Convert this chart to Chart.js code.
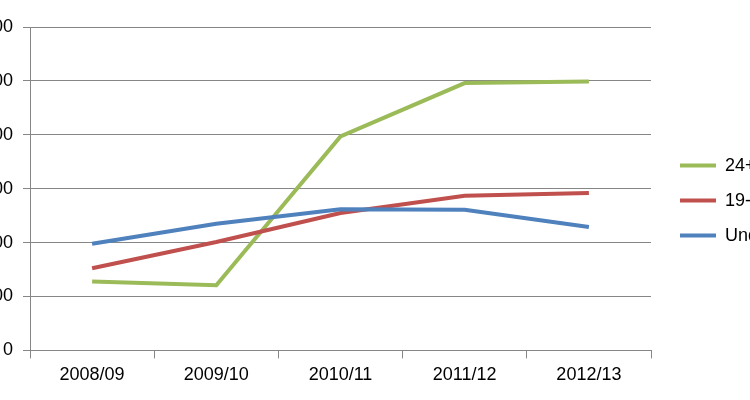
<!DOCTYPE html>
<html>
<head>
<meta charset="utf-8">
<script src="https://cdn.jsdelivr.net/npm/chart.js@4/dist/chart.umd.min.js"></script>
<style>
  html, body { margin: 0; padding: 0; background: #fff; overflow: hidden; width: 750px; height: 400px; }
  #wrap { position: absolute; left: -57px; top: 0; width: 864px; height: 400px; }
</style>
</head>
<body>
<div id="wrap"><canvas id="c"></canvas></div>
<script>
const categories = ['2008/09', '2009/10', '2010/11', '2011/12', '2012/13'];
const seriesNames = ['24+', '19-24', 'Under 19'];
const values24plus = [63800, 60500, 198500, 248000, 249500];
const values19to24 = [76200, 100500, 127500, 143500, 146000];
const valuesUnder19 = [99000, 117500, 131000, 130500, 114500];
const seriesColors = ['#9BBB59', '#C0504D', '#4F81BD'];

const gridGray = '#868686';
const font = { family: 'Liberation Sans', size: 18 };

new Chart(document.getElementById('c'), {
  type: 'line',
  data: {
    labels: categories,
    datasets: [
      { label: seriesNames[0], data: values24plus, borderColor: seriesColors[0], backgroundColor: seriesColors[0], order: 3 },
      { label: seriesNames[1], data: values19to24, borderColor: seriesColors[1], backgroundColor: seriesColors[1], order: 2 },
      { label: seriesNames[2], data: valuesUnder19, borderColor: seriesColors[2], backgroundColor: seriesColors[2], order: 1 }
    ].map(d => Object.assign(d, { borderWidth: 4, pointRadius: 0, tension: 0, fill: false }))
  },
  options: {
    responsive: true,
    maintainAspectRatio: false,
    animation: false,
    layout: { padding: { top: 27, bottom: 8, left: 0, right: 0 } },
    plugins: {
      tooltip: { enabled: false },
      legend: {
        position: 'right',
        align: 'start',
        title: { display: true, text: ' ', font: font, padding: { top: 91, bottom: 0 } },
        labels: {
          font: font,
          color: '#000',
          usePointStyle: true,
          pointStyle: 'line',
          pointStyleWidth: 36,
          padding: 17,
          sort: (a, b) => a.datasetIndex - b.datasetIndex
        }
      }
    },
    scales: {
      x: {
        offset: true,
        grid: { offset: true, drawOnChartArea: false, drawTicks: true, tickLength: 8, color: gridGray },
        border: { color: gridGray },
        ticks: { font: font, color: '#000', padding: 6, maxRotation: 0 }
      },
      y: {
        min: 0,
        max: 300000,
        ticks: { stepSize: 50000, font: font, color: '#000', padding: 10 },
        grid: { color: gridGray, tickLength: 7 },
        border: { color: gridGray },
        afterFit: s => { s.width = 87; }
      },
      yRight: {
        position: 'right',
        display: true,
        grid: { display: false },
        border: { display: false },
        ticks: { display: false },
        afterFit: s => { s.width = 12; }
      }
    }
  }
});
</script>
</body>
</html>
